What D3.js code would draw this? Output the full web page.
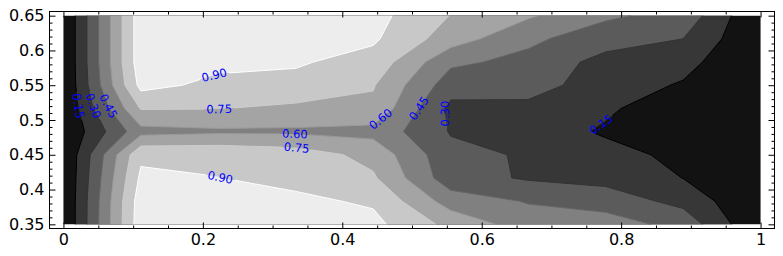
<!DOCTYPE html>
<html>
<head>
<meta charset="utf-8">
<script src="https://cdn.jsdelivr.net/npm/d3@7"></script>
<style>
body { margin: 0; background: #fff; }
svg { display: block; }
</style>
</head>
<body>
<svg width="783" height="256"></svg>
<script>
// grid the contours were computed on (10 x 10)
const xs = [0, 0.1111, 0.2222, 0.3333, 0.4444, 0.5556, 0.6667, 0.7778, 0.8889, 1];
const ys = [0.35, 0.3833, 0.4167, 0.45, 0.4833, 0.5167, 0.55, 0.5833, 0.6167, 0.65];

// z values, one array per row, bottom row (y = 0.35) first
const row0 = [0, 0.99, 0.97, 0.95, 0.94, 0.705, 0.524, 0.52, 0.40, 0];
const row1 = [0, 0.98, 0.95, 0.929, 0.88, 0.53, 0.44, 0.385, 0.254, 0];
const row2 = [0, 0.929, 0.902, 0.86, 0.77, 0.36, 0.284, 0.25, 0.148, 0];
const row3 = [0, 0.87, 0.87, 0.83, 0.70, 0.34, 0.285, 0.22, 0.10, 0];
const row4 = [0, 0.55, 0.575, 0.575, 0.552, 0.29, 0.25, 0.125, 0.05, 0];
const row5 = [0, 0.76, 0.755, 0.718, 0.72, 0.26, 0.26, 0.18, 0.03, 0];
const row6 = [0, 0.946, 0.86, 0.857, 0.76, 0.37, 0.365, 0.22, 0.136, 0];
const row7 = [0, 0.99, 0.94, 0.916, 0.845, 0.479, 0.41, 0.246, 0.20, 0];
const row8 = [0, 0.99, 0.97, 0.96, 0.922, 0.673, 0.48, 0.37, 0.30, 0];
const row9 = [0, 0.99, 0.97, 0.96, 0.95, 0.745, 0.618, 0.474, 0.40, 0];

const levels = [0, 0.15, 0.30, 0.45, 0.60, 0.75, 0.90, 1.05];
const lineLevels = [0.15, 0.30, 0.45, 0.60, 0.75, 0.90];

// inline contour labels: level and rough position
const labelLevels = [0.90, 0.75, 0.60, 0.75, 0.90, 0.15, 0.30, 0.45, 0.60, 0.45, 0.30, 0.15];
const labelX = [0.214, 0.223, 0.332, 0.334, 0.222, 0.0196, 0.041, 0.064, 0.452, 0.508, 0.552, 0.772];
const labelY = [0.572, 0.524, 0.480, 0.457, 0.410, 0.520, 0.520, 0.520, 0.505, 0.518, 0.510, 0.492];

const xMajor = [0, 0.2, 0.4, 0.6, 0.8, 1];
const xTickLabels = ['0', '0.2', '0.4', '0.6', '0.8', '1'];
const yMajor = [0.35, 0.4, 0.45, 0.5, 0.55, 0.6, 0.65];
const yTickLabels = ['0.35', '0.4', '0.45', '0.5', '0.55', '0.6', '0.65'];

const plotLeft = 49.5, plotRight = 774.5, plotTop = 11.5, plotBottom = 228.5;
const font = '"DejaVu Sans", sans-serif';

const svg = d3.select('svg');
svg.append('rect').attr('width', 783).attr('height', 256).attr('fill', '#fff');

const x = d3.scaleLinear().domain([-0.02, 1.02]).range([plotLeft, plotRight]);
const y = d3.scaleLinear().domain([0.344, 0.656]).range([plotBottom, plotTop]);

const nx = xs.length;
const ny = ys.length;
const values = [].concat(row0, row1, row2, row3, row4, row5, row6, row7, row8, row9);

// d3.contours grid coords -> fractional index (values sit at k + 0.5)
const toIdx = (c, n) => Math.max(0, Math.min(n - 1, c - 0.5));
const idxToVal = (arr, t) => {
    const i = Math.min(Math.floor(t), arr.length - 2);
    return arr[i] + (t - i) * (arr[i + 1] - arr[i]);
};
const px = ix => x(idxToVal(xs, ix));
const py = iy => y(idxToVal(ys, iy));

const projection = d3.geoTransform({
    point: function(cx, cy) {
        this.stream.point(px(toIdx(cx, nx)), py(toIdx(cy, ny)));
    }
});
const path = d3.geoPath(projection);

// gray colormap, normalised on the filled levels
const bandColor = d3.scaleLinear().domain([0, 1.05]).range(['#000', '#fff']);
const lineColor = d3.scaleLinear().domain([0.15, 0.90]).range(['#000', '#fff']);

const bands = d3.contours().size([nx, ny]).thresholds(levels)(values);

svg.append('g')
    .selectAll('path')
    .data(bands)
    .join('path')
    .attr('d', path)
    .attr('fill', d => bandColor(d.value + 0.075))
    .attr('stroke', 'none');

// contour lines = polygon rings without the pieces on the grid border
const isolines = contour => {
    const runs = [];
    const onBorder = (a, b) =>
        (a[0] === 0 && b[0] === 0) || (a[0] === nx - 1 && b[0] === nx - 1) ||
        (a[1] === 0 && b[1] === 0) || (a[1] === ny - 1 && b[1] === ny - 1);
    contour.coordinates.forEach(poly => poly.forEach(ring => {
        const pts = ring.map(([cx, cy]) => [toIdx(cx, nx), toIdx(cy, ny)]);
        let segs = [];
        for (let k = 0; k < pts.length - 1; k++) {
            segs.push([pts[k], pts[k + 1], onBorder(pts[k], pts[k + 1])]);
        }
        const first = segs.findIndex(s => s[2]);
        if (first === -1) {
            runs.push(pts);
            return;
        }
        segs = segs.slice(first).concat(segs.slice(0, first));
        let cur = null;
        segs.forEach(s => {
            if (s[2]) {
                if (cur) runs.push(cur);
                cur = null;
            } else {
                if (!cur) cur = [s[0]];
                cur.push(s[1]);
            }
        });
        if (cur) runs.push(cur);
    }));
    return runs.map(run => run.map(([ix, iy]) => [px(ix), py(iy)]));
};

const lineSets = d3.contours().size([nx, ny]).thresholds(lineLevels)(values)
    .map(c => ({ value: c.value, lines: isolines(c) }));

// point at arc length s along a polyline
const pointAt = (line, cum, s) => {
    s = Math.max(0, Math.min(cum[cum.length - 1], s));
    let k = 0;
    while (k < cum.length - 2 && cum[k + 1] < s) k++;
    const seg = cum[k + 1] - cum[k];
    const t = seg > 0 ? (s - cum[k]) / seg : 0;
    return [line[k][0] + t * (line[k + 1][0] - line[k][0]), line[k][1] + t * (line[k + 1][1] - line[k][1])];
};

const defs = svg.append('defs');
const mask = defs.append('mask')
    .attr('id', 'label-gaps')
    .attr('maskUnits', 'userSpaceOnUse')
    .attr('x', 0).attr('y', 0).attr('width', 783).attr('height', 256);
mask.append('rect').attr('width', 783).attr('height', 256).attr('fill', '#fff');

const lineG = svg.append('g').attr('mask', 'url(#label-gaps)');
lineSets.forEach(s => {
    lineG.append('g')
        .selectAll('path')
        .data(s.lines)
        .join('path')
        .attr('d', d3.line())
        .attr('fill', 'none')
        .attr('stroke', lineColor(s.value))
        .attr('stroke-width', 1);
});

// labels: snap onto the contour, rotate along it over part of the label's length
const labelG = svg.append('g');
labelLevels.forEach((lev, i) => {
    const t = labelG.append('text')
        .attr('text-anchor', 'middle')
        .attr('dy', '0.36em')
        .attr('fill', '#0000ff')
        .style('font-family', font)
        .style('font-size', '11.5px')
        .text(lev.toFixed(2));
    const w = t.node().getComputedTextLength();
    const half = w * 0.35;

    const set = lineSets.find(s => Math.abs(s.value - lev) < 1e-9);
    const tx = x(labelX[i]), ty = y(labelY[i]);
    let best = { d: Infinity, x: tx, y: ty, angle: 0 };
    set.lines.forEach(line => {
        const cum = [0];
        for (let k = 1; k < line.length; k++) {
            cum.push(cum[k - 1] + Math.hypot(line[k][0] - line[k - 1][0], line[k][1] - line[k - 1][1]));
        }
        for (let k = 0; k < line.length - 1; k++) {
            const [ax, ay] = line[k], [bx, by] = line[k + 1];
            const dx = bx - ax, dy = by - ay;
            const len2 = dx * dx + dy * dy;
            if (len2 === 0) continue;
            const u = Math.max(0, Math.min(1, ((tx - ax) * dx + (ty - ay) * dy) / len2));
            const qx = ax + u * dx, qy = ay + u * dy;
            const d = Math.hypot(tx - qx, ty - qy);
            if (d < best.d) {
                const s0 = cum[k] + u * Math.sqrt(len2);
                const p0 = pointAt(line, cum, s0 - half);
                const p1 = pointAt(line, cum, s0 + half);
                best = { d, x: qx, y: qy, angle: Math.atan2(p1[1] - p0[1], p1[0] - p0[0]) * 180 / Math.PI };
            }
        }
    });
    let a = best.angle;
    if (a > 90) a -= 180;
    if (a <= -90) a += 180;
    const tf = `translate(${best.x},${best.y}) rotate(${a})`;
    t.attr('transform', tf);
    mask.append('rect')
        .attr('x', -w / 2 - 2).attr('y', -5)
        .attr('width', w + 4).attr('height', 10)
        .attr('transform', tf)
        .attr('fill', '#000');
});

// axes: inward ticks on all four sides, minor ticks
const xMinor = x.ticks(20).filter(v => !xMajor.some(m => Math.abs(m - v) < 1e-9));
const yMinor = y.ticks(30).filter(v => !yMajor.some(m => Math.abs(m - v) < 1e-9));

const styleAxis = g => {
    g.select('.domain').remove();
    g.selectAll('line').attr('stroke', '#000');
    g.selectAll('text').style('font-family', font).style('font-size', '16px').attr('fill', '#000');
};

svg.append('g').attr('transform', `translate(0,${plotBottom})`)
    .call(d3.axisBottom(x).tickValues(xMajor).tickFormat((d, i) => xTickLabels[i]).tickSize(-6).tickPadding(5))
    .call(styleAxis);
svg.append('g').attr('transform', `translate(0,${plotBottom})`)
    .call(d3.axisBottom(x).tickValues(xMinor).tickFormat('').tickSize(-3))
    .call(styleAxis);
svg.append('g').attr('transform', `translate(0,${plotTop})`)
    .call(d3.axisTop(x).tickValues(xMajor).tickFormat('').tickSize(-6))
    .call(styleAxis);
svg.append('g').attr('transform', `translate(0,${plotTop})`)
    .call(d3.axisTop(x).tickValues(xMinor).tickFormat('').tickSize(-3))
    .call(styleAxis);

svg.append('g').attr('transform', `translate(${plotLeft},0)`)
    .call(d3.axisLeft(y).tickValues(yMajor).tickFormat((d, i) => yTickLabels[i]).tickSize(-6).tickPadding(5))
    .call(styleAxis);
svg.append('g').attr('transform', `translate(${plotLeft},0)`)
    .call(d3.axisLeft(y).tickValues(yMinor).tickFormat('').tickSize(-3))
    .call(styleAxis);
svg.append('g').attr('transform', `translate(${plotRight},0)`)
    .call(d3.axisRight(y).tickValues(yMajor).tickFormat('').tickSize(-6))
    .call(styleAxis);
svg.append('g').attr('transform', `translate(${plotRight},0)`)
    .call(d3.axisRight(y).tickValues(yMinor).tickFormat('').tickSize(-3))
    .call(styleAxis);

svg.append('rect')
    .attr('x', plotLeft).attr('y', plotTop)
    .attr('width', plotRight - plotLeft).attr('height', plotBottom - plotTop)
    .attr('fill', 'none')
    .attr('stroke', '#000')
    .attr('stroke-width', 1);
</script>
</body>
</html>
